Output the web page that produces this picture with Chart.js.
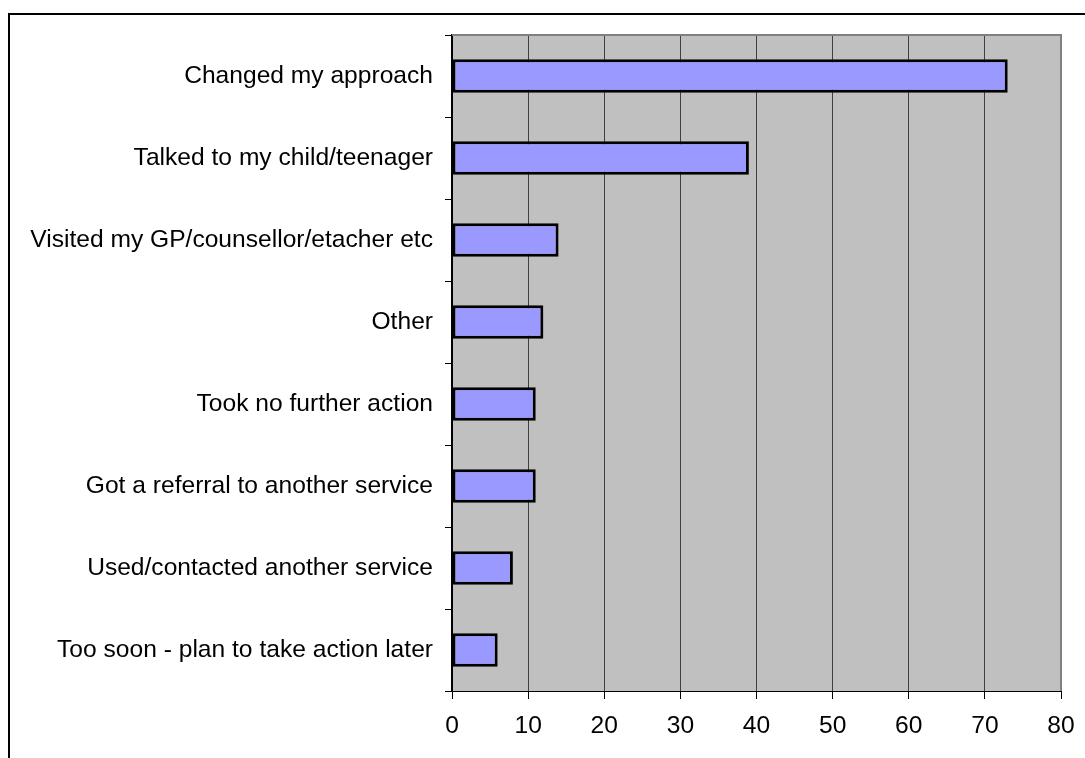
<!DOCTYPE html>
<html>
<head>
<meta charset="utf-8">
<script src="https://cdn.jsdelivr.net/npm/chart.js@4/dist/chart.umd.min.js"></script>
<style>
  html, body { margin: 0; padding: 0; background: #fff; }
  #wrap { position: relative; width: 1085px; height: 758px; overflow: hidden; }
  #frame { position: absolute; left: 8px; top: 13px; width: 1100px; height: 800px;
           border-top: 2px solid #000; border-left: 2px solid #000; box-sizing: border-box; }
  canvas { position: absolute; left: 0; top: 0; }
</style>
</head>
<body>
<div id="wrap">
  <div id="frame"></div>
  <canvas id="c" width="1085" height="758"></canvas>
</div>
<script>
// Survey responses: what parents did next
const categories = [
  'Changed my approach',
  'Talked to my child/teenager',
  'Visited my GP/counsellor/etacher etc',
  'Other',
  'Took no further action',
  'Got a referral to another service',
  'Used/contacted another service',
  'Too soon - plan to take action later'
];
const responses = [73, 39, 14, 12, 11, 11, 8, 6];
const xTicks = [0, 10, 20, 30, 40, 50, 60, 70, 80];

const FONT = { family: '"Liberation Sans", Arial, sans-serif', size: 24.6 };

// Grey plot background plus the grey top/right frame of the plot area
const plotFrame = {
  id: 'plotFrame',
  beforeDraw(chart) {
    const { ctx, chartArea: a } = chart;
    ctx.save();
    ctx.fillStyle = '#C0C0C0';
    ctx.fillRect(a.left, a.top, a.right - a.left, a.bottom - a.top);
    ctx.restore();
  },
  afterDatasetsDraw(chart) {
    const { ctx, chartArea: a } = chart;
    ctx.save();
    ctx.strokeStyle = '#808080';
    ctx.lineWidth = 2;
    ctx.beginPath();
    ctx.moveTo(a.left, a.top);
    ctx.lineTo(a.right, a.top);
    ctx.lineTo(a.right, a.bottom);
    ctx.stroke();
    ctx.restore();
  }
};

new Chart(document.getElementById('c'), {
  type: 'bar',
  data: {
    labels: categories,
    datasets: [{
      data: responses,
      backgroundColor: '#9999FF',
      borderColor: '#000000',
      borderWidth: 3,
      borderSkipped: false,
      barPercentage: 0.41,
      categoryPercentage: 1
    }]
  },
  options: {
    indexAxis: 'y',
    responsive: false,
    animation: false,
    devicePixelRatio: 1,
    layout: { padding: { left: 0, top: 35, right: 24, bottom: 0 } },
    plugins: { legend: { display: false }, tooltip: { enabled: false } },
    scales: {
      x: {
        min: 0, max: 80,
        afterBuildTicks(scale) { scale.ticks = xTicks.map(v => ({ value: v })); },
        afterFit(scale) {
          scale.height = 67;
          scale.paddingLeft = 0;
          scale.paddingRight = 0;
        },
        grid: {
          color: ctx => (ctx.tick && ctx.tick.value === 80) ? '#808080' : '#404040',
          lineWidth: 1,
          drawTicks: true,
          tickLength: 8,
          tickColor: '#000'
        },
        border: { color: '#000', width: 1 },
        ticks: { color: '#000', font: FONT, padding: 12, maxRotation: 0 }
      },
      y: {
        afterFit(scale) { scale.width = 452; },
        grid: {
          drawOnChartArea: false,
          drawTicks: true,
          tickLength: 7,
          tickColor: '#000',
          offset: true
        },
        border: { color: '#000', width: 2 },
        ticks: { color: '#000', font: FONT, padding: 12, autoSkip: false }
      }
    }
  },
  plugins: [plotFrame]
});
</script>
</body>
</html>
